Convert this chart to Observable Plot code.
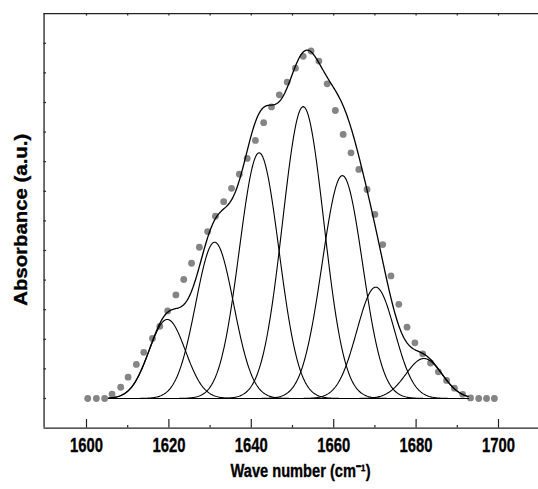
<!DOCTYPE html>
<html><head><meta charset="utf-8">
<script src="https://cdn.jsdelivr.net/npm/d3@7"></script>
<script src="https://cdn.jsdelivr.net/npm/@observablehq/plot@0.6"></script>
<style>body{margin:0;background:#fff} svg{display:block;overflow:visible}</style>
</head><body><div id="chart"></div>
<script>
// measured spectrum (grey dots)
const dataX = [1600.3,1602.4,1604.4,1606.2,1608.3,1610.1,1612.1,1613.9,1616.0,1617.8,1619.7,1621.7,1623.6,1625.5,1627.4,1629.4,1631.3,1633.3,1635.2,1637.1,1639.0,1641.0,1643.0,1644.9,1646.8,1648.7,1650.7,1652.6,1654.5,1656.4,1658.4,1660.4,1662.3,1664.2,1666.1,1668.1,1670.0,1671.9,1673.9,1675.8,1677.8,1679.7,1681.6,1683.5,1685.4,1687.4,1689.3,1691.3,1693.2,1695.2,1697.1,1699.0];
const dataY = [0,0,0,0.15,0.38,0.72,1.15,1.56,2.03,2.44,2.96,3.50,4.02,4.57,5.11,5.64,6.16,6.65,7.10,7.58,8.11,8.72,9.32,9.85,10.26,10.69,11.16,11.56,11.74,11.40,10.63,9.73,8.92,8.30,7.74,7.06,6.22,5.20,4.14,3.18,2.41,1.88,1.51,1.20,0.90,0.61,0.35,0.14,0.02,0,0,0];
// fitted Gaussian components
const peakCenters = [1619.6, 1631.1, 1641.9, 1652.6, 1662.1, 1670.2, 1681.9];
const peakHeights = [2.67, 5.28, 8.30, 9.86, 7.53, 3.76, 1.35];
const peakWidths  = [4.4, 4.6, 4.8, 5.0, 4.9, 4.6, 4.4]; // sigma
const fitRange = [1605.4, 1692.7];
// axes
const xTickLabels = [1600, 1620, 1640, 1660, 1680, 1700];
const xMinorTicks = [1610, 1630, 1650, 1670, 1690];
const xTopTicks = [1600, 1610, 1620, 1630, 1640, 1650, 1660, 1670, 1680, 1690, 1700];
const yTicks = [0,1,2,3,4,5,6,7,8,9,10,11,12];
const xLabel = "Wave number (cm\u207B\u00B9)";
const yLabel = "Absorbance (a.u.)";

const xLeft = 1589.7, xRight = 1712, yTop = 13, yBottom = -1;
const dots = dataX.map((x, i) => ({x, y: dataY[i]}));
const grid = d3.range(fitRange[0], fitRange[1] + 1e-9, 0.2);
const gauss = (x, k) => peakHeights[k] * Math.exp(-((x - peakCenters[k]) ** 2) / (2 * peakWidths[k] ** 2));
const comps = [];
peakCenters.forEach((c, k) => grid.forEach(x => comps.push({peak: k, x, y: gauss(x, k)})));
const envelope = grid.map(x => ({x, y: d3.sum(peakCenters, (c, k) => gauss(x, k))}));

const font = "Liberation Sans, Arial, sans-serif";
const txt = {fontWeight: "bold", fill: "#000", stroke: "#000", strokeWidth: 0.35};
const chart = Plot.plot({
  width: 538, height: 489,
  marginLeft: 44, marginRight: 0, marginTop: 13, marginBottom: 61.4,
  x: {domain: [1600, 1700], range: [86, 498], axis: null},
  y: {domain: [0, 12], range: [398, 42.8], axis: null},
  style: {fontFamily: font, background: "#fff"},
  marks: [
    Plot.dot(dots, {x: "x", y: "y", r: 3.4, fill: "#858585"}),
    Plot.line(comps, {x: "x", y: "y", z: "peak", stroke: "#000", strokeWidth: 1.1}),
    Plot.line(envelope, {x: "x", y: "y", stroke: "#000", strokeWidth: 1.3}),
    // frame (left, top, bottom)
    Plot.ruleX([xLeft], {y1: yBottom, y2: yTop, stroke: "#222", strokeWidth: 1.3}),
    Plot.ruleY([yTop, yBottom], {x1: xLeft, x2: xRight, stroke: "#222", strokeWidth: 1.3}),
    // inward ticks
    Plot.ruleY(yTicks, {x1: xLeft, x2: xLeft + 0.6, stroke: "#222", strokeWidth: 1.2}),
    Plot.ruleX(xTopTicks, {y1: yTop, y2: yTop - 0.08, stroke: "#222", strokeWidth: 1.2}),
    Plot.ruleX(xTickLabels, {y1: yBottom, y2: yBottom + 0.29, stroke: "#222", strokeWidth: 1.2}),
    Plot.ruleX(xMinorTicks, {y1: yBottom, y2: yBottom + 0.09, stroke: "#222", strokeWidth: 1.2}),
    // tick labels
    Plot.text(xTickLabels, {x: d => d, y: yBottom, dy: 17.5, text: d => String(d), fontSize: 20, ...txt, className: "xtl"}),
    // axis titles
    Plot.text([xLabel], {frameAnchor: "bottom", textAnchor: "middle", dx: 9, dy: 48.9, text: d => d, fontSize: 18, ...txt, className: "xlab"}),
    Plot.text([yLabel], {frameAnchor: "left", textAnchor: "middle", rotate: -90, dx: -23.5, dy: -1, text: d => d, fontSize: 18.5, ...txt, className: "ylab"})
  ]
});
document.getElementById("chart").appendChild(chart);
const fit = (sel, len) => chart.querySelectorAll(sel + " text").forEach(t => {
  t.setAttribute("textLength", len);
  t.setAttribute("lengthAdjust", "spacingAndGlyphs");
});
fit(".xtl", 33);
fit(".xlab", 140);
fit(".ylab", 172);
</script>
</body></html>
